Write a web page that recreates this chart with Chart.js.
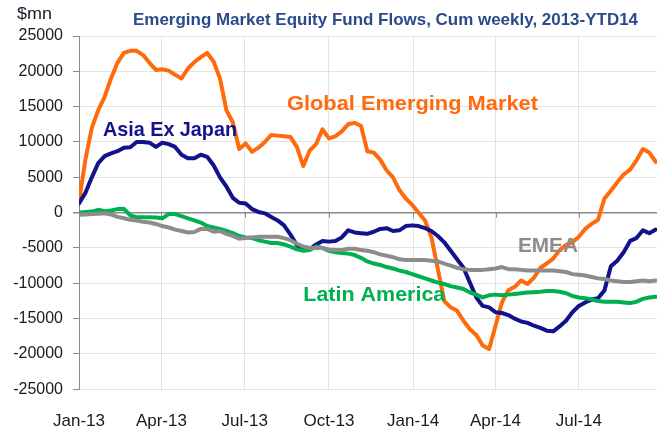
<!DOCTYPE html>
<html>
<head>
<meta charset="utf-8">
<script src="https://cdn.jsdelivr.net/npm/chart.js@4/dist/chart.umd.min.js"></script>
<style>
  html, body { margin: 0; padding: 0; background: #ffffff; }
  #wrap { position: relative; width: 660px; height: 437px; }
</style>
</head>
<body>
<div id="wrap"><canvas id="c" width="660" height="437"></canvas></div>
<script>
// Week index 0 = first week of Jan 2013 (weekly observations, cumulative $mn)
const tickWeeks  = [0, 12.86, 25.86, 39, 52.14, 65, 78];
const tickLabels = ['Jan-13', 'Apr-13', 'Jul-13', 'Oct-13', 'Jan-14', 'Apr-14', 'Jul-14'];

const globalEM = [1500, 7500, 12000, 14500, 16400, 19000, 21200, 22600, 22900, 22900,
  22300, 21200, 20200, 20300, 20100, 19500, 19000, 20400, 21300, 22000,
  22600, 21400, 19000, 14500, 12800, 9000, 9800, 8600, 9200, 10000,
  11000, 10900, 10800, 10700, 9300, 6600, 8800, 9700, 11800, 10500,
  10800, 11500, 12500, 12700, 12300, 8700, 8500, 7500, 6000, 5000,
  3200, 2000, 1100, 0, -1100, -3500, -8000, -12500, -13400, -13900,
  -15300, -16500, -17300, -18800, -19300, -16000, -12700, -11000, -10500, -9600,
  -10100, -9200, -7800, -7200, -6500, -5300, -4600, -4200, -3400, -2300,
  -1600, -1000, 2000, 3100, 4300, 5400, 6100, 7400, 9000, 8500, 7200];

const asiaExJapan = [1300, 2800, 5000, 7000, 8000, 8400, 8700, 9200, 9250, 10000,
  10000, 9900, 9300, 9900, 9700, 9300, 8200, 7700, 7700, 8200,
  7900, 6700, 5000, 3700, 2100, 1400, 1300, 500, 100, -100,
  -600, -1100, -1800, -3100, -4600, -5100, -5200, -4500, -4000, -4100,
  -4000, -3500, -2500, -2800, -2900, -3000, -2700, -2300, -2200, -2600,
  -2500, -1900, -1800, -1900, -2200, -2600, -3300, -4200, -5400, -6600,
  -7800, -9900, -12000, -13200, -13400, -14100, -14200, -14500, -15000, -15400,
  -15600, -16000, -16300, -16700, -16800, -16100, -15300, -14100, -13200, -12700,
  -12300, -12100, -11000, -7600, -6800, -5600, -4000, -3600, -2500, -2900, -2400];

const latinAmerica = [0, 100, 150, 400, 200, 300, 500, 550, -400, -650,
  -650, -650, -700, -800, -200, -200, -500, -800, -1100, -1400,
  -1900, -2100, -2300, -2600, -2900, -3300, -3500, -3600, -3900, -4100,
  -4300, -4300, -4500, -4800, -5200, -5400, -5300, -4800, -5000, -5400,
  -5600, -5700, -5800, -6000, -6400, -6900, -7200, -7400, -7700, -7900,
  -8200, -8400, -8700, -9000, -9300, -9600, -9900, -10100, -10400, -10600,
  -10800, -11300, -11600, -12000, -11700, -11600, -11700, -11600, -11500, -11400,
  -11300, -11250, -11200, -11100, -11100, -11200, -11400, -11800, -12000, -12100,
  -12300, -12500, -12600, -12600, -12600, -12700, -12800, -12600, -12200, -12000, -11900];

const emea = [-300, -250, -200, -150, -100, -250, -600, -800, -1000, -1100,
  -1300, -1400, -1600, -1900, -2100, -2400, -2600, -2800, -2750, -2300,
  -2300, -2700, -2600, -3000, -3300, -3700, -3600, -3500, -3400, -3400,
  -3400, -3400, -3600, -3900, -4400, -4800, -5000, -5000, -5000, -5200,
  -5300, -5300, -5100, -5100, -5300, -5400, -5600, -5900, -6100, -6300,
  -6600, -6700, -6700, -6700, -6700, -6800, -6900, -7200, -7500, -7800,
  -8000, -8100, -8100, -8100, -8000, -7900, -7700, -8000, -8000, -8100,
  -8200, -8200, -8200, -8200, -8200, -8300, -8400, -8700, -8800, -8900,
  -9100, -9300, -9400, -9600, -9700, -9800, -9800, -9700, -9600, -9700, -9600];

const seriesNames = ['Global Emerging Market', 'Asia Ex Japan', 'Latin America', 'EMEA'];
const titleText = 'Emerging Market Equity Fund Flows, Cum weekly, 2013-YTD14';
const unitText = '$mn';

const COLORS = {
  gem: '#FF6A0D',
  asia: '#12128C',
  latam: '#00B050',
  emea: '#8C8C8C',
  grid: '#E3E3E3',
  axis: '#8A8A8A',
  title: '#2B4A8B'
};

// Label anchors in data space: [week, value (baseline), target width px]
const labelAnchors = [
  { text: seriesNames[1], wk: 3.74, val: 10850, w: 134, color: COLORS.asia },
  { text: seriesNames[0], wk: 32.45, val: 14500, w: 251, color: COLORS.gem },
  { text: seriesNames[3], wk: 68.5, val: -5520, w: 60, color: COLORS.emea },
  { text: seriesNames[2], wk: 35.0, val: -12450, w: 142, color: COLORS.latam }
];

function pts(arr) { return arr.map((v, i) => ({ x: i, y: v })); }

function fitText(ctx, text, x, y, w) {
  const m = ctx.measureText(text).width;
  const s = w / m;
  ctx.save();
  ctx.translate(x, y);
  ctx.scale(s, 1);
  ctx.fillText(text, 0, 0);
  ctx.restore();
}

const textPlugin = {
  id: 'textPlugin',
  afterDatasetsDraw(chart) {
    const ctx = chart.ctx;
    const xs = chart.scales.x, ys = chart.scales.y;
    ctx.save();
    ctx.textBaseline = 'alphabetic';
    ctx.textAlign = 'left';
    labelAnchors.forEach(a => {
      ctx.font = 'bold 21px "Liberation Sans"';
      ctx.fillStyle = a.color;
      fitText(ctx, a.text, xs.getPixelForValue(a.wk), ys.getPixelForValue(a.val), a.w);
    });
    ctx.restore();
  },
  afterDraw(chart) {
    const ctx = chart.ctx;
    ctx.save();
    ctx.textAlign = 'left';
    ctx.textBaseline = 'alphabetic';
    ctx.font = 'bold 17px "Liberation Sans"';
    ctx.fillStyle = COLORS.title;
    fitText(ctx, titleText, 133, 25, 505);
    ctx.font = '16px "Liberation Sans"';
    ctx.fillStyle = '#1a1a2a';
    fitText(ctx, unitText, 17, 18.5, 35);
    ctx.restore();
  },
  beforeDatasetsDraw(chart) {
    // small tick marks on the zero (category) axis
    const ctx = chart.ctx;
    const xs = chart.scales.x, ys = chart.scales.y;
    const y0 = ys.getPixelForValue(0);
    ctx.save();
    ctx.strokeStyle = COLORS.axis;
    ctx.lineWidth = 1;
    tickWeeks.forEach(w => {
      const px = Math.round(xs.getPixelForValue(w)) + 0.5;
      ctx.beginPath();
      ctx.moveTo(px, y0);
      ctx.lineTo(px, y0 + 5);
      ctx.stroke();
    });
    ctx.restore();
  }
};

const ds = (label, data, color) => ({
  label, data: pts(data), borderColor: color, backgroundColor: color,
  borderWidth: 4, pointRadius: 0, tension: 0, fill: false,
  borderJoinStyle: 'round', borderCapStyle: 'round'
});

new Chart(document.getElementById('c'), {
  type: 'line',
  data: {
    datasets: [
      ds(seriesNames[3], emea, COLORS.emea),
      ds(seriesNames[2], latinAmerica, COLORS.latam),
      ds(seriesNames[1], asiaExJapan, COLORS.asia),
      ds(seriesNames[0], globalEM, COLORS.gem)
    ]
  },
  options: {
    responsive: false,
    animation: false,
    events: [],
    layout: { padding: { left: 0, right: 3, top: 36, bottom: 0 } },
    plugins: {
      legend: { display: false },
      title: { display: false },
      tooltip: { enabled: false }
    },
    scales: {
      x: {
        type: 'linear',
        min: 0,
        max: 90.2,
        afterBuildTicks(scale) { scale.ticks = tickWeeks.map(v => ({ value: v })); },
        afterFit(scale) { scale.height = 47.7; },
        ticks: {
          autoSkip: false,
          maxRotation: 0,
          padding: 22,
          color: '#1a1a1a',
          font: { family: '"Liberation Sans"', size: 17 },
          callback(value, index) { return tickLabels[index]; }
        },
        grid: { color: COLORS.grid, lineWidth: 1, drawTicks: false },
        border: { display: false }
      },
      y: {
        min: -25000,
        max: 25000,
        afterFit(scale) { scale.width = 79; },
        ticks: {
          stepSize: 5000,
          padding: 10,
          color: '#1a1a1a',
          font: { family: '"Liberation Sans"', size: 16 },
          callback(value) { return String(value); }
        },
        grid: {
          color(ctx) { return ctx.tick && ctx.tick.value === 0 ? COLORS.axis : COLORS.grid; },
          lineWidth(ctx) { return ctx.tick && ctx.tick.value === 0 ? 1.5 : 1; },
          tickColor: COLORS.axis,
          tickLength: 6
        },
        border: { display: true, color: COLORS.axis, width: 1 }
      }
    }
  },
  plugins: [textPlugin]
});
</script>
</body>
</html>
